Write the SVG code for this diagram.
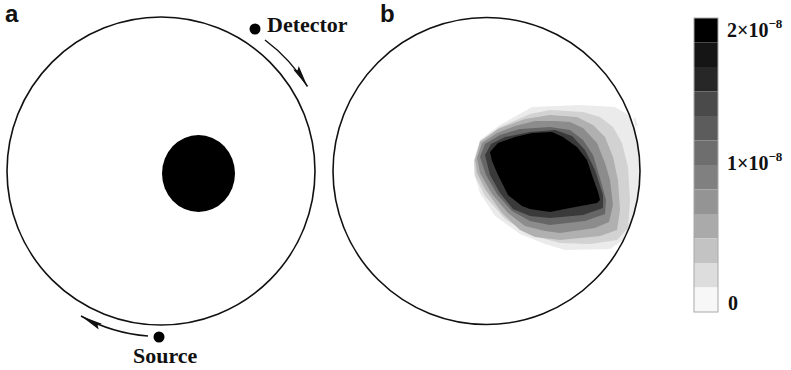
<svg xmlns="http://www.w3.org/2000/svg" width="791" height="370" viewBox="0 0 791 370">
<style>
  .ring { fill: none; stroke: #111; stroke-width: 1.6; }
  .lbl { font-family: "Liberation Sans", Arial, sans-serif; font-weight: bold; font-size: 24px; fill: #111; }
  .serif { font-family: "Liberation Serif", "Times New Roman", serif; font-weight: bold; fill: #111; }
  .arc { fill: none; stroke: #111; stroke-width: 1.5; marker-end: url(#dart); }
</style>
<defs>
  <marker id="dart" viewBox="0 0 22 7" refX="22" refY="3.5" markerWidth="22" markerHeight="7" markerUnits="userSpaceOnUse" orient="auto">
    <path d="M0,0.2 L22,3.5 L0,6.8 L3,3.5 Z" fill="#111"/>
  </marker>
  <clipPath id="clipB"><circle cx="486.5" cy="171" r="153.5"/></clipPath>
</defs>
<rect width="791" height="370" fill="#fff"/>

<g id="panel-a">
  <text class="lbl" x="5" y="22">a</text>
  <g id="phantom-a"><circle class="ring" cx="161" cy="171" r="154"/></g>
  <g id="inclusion"><ellipse cx="198.5" cy="173.5" rx="36.5" ry="38.5" fill="#000"/></g>
  <g id="detector">
    <circle cx="255" cy="29" r="5.5" fill="#000"/>
    <text class="serif" x="267" y="32" font-size="22">Detector</text>
  </g>
  <g id="source">
    <circle cx="159" cy="337" r="5.5" fill="#000"/>
    <text class="serif" x="133" y="363" font-size="22">Source</text>
  </g>
</g>

<g id="connectors">
  <path class="arc" d="M 265 40 A 168 168 0 0 1 307.5 86.5"/>
  <path class="arc" d="M 148 336 A 165 165 0 0 1 81 316"/>
</g>

<g id="panel-b">
  <text class="lbl" x="380" y="22">b</text>
  <g id="blob" clip-path="url(#clipB)">
    <polygon fill="#ebebeb" points="474,160 480,140 500,125 532,107 580,105 615,107 632,117 640,140 643,180 638,215 626,238 610,249 565,250 545,244 520,234 495,216 480,193 474,173"/>
    <polygon fill="#d2d2d2" points="474,161 480,141 500,127 530,114 550,110 583,112 600,117 613,127 622,143 628,167 630,200 628,228 617,240 590,244 560,243 530,235 505,219 485,196 475,176"/>
    <polygon fill="#b0b0b0" points="475,160 480,142 498,129 525,119 550,115 577,117 593,125 605,137 613,157 618,180 620,210 617,230 600,236 560,240 535,237 520,230 502,213 485,189 477,173"/>
    <polygon fill="#8c8c8c" points="477,158 482,143 497,133 515,126 535,121 555,121 570,122 583,128 597,143 605,163 610,180 613,205 609,222 595,228 560,233 545,231 525,226 508,213 492,194 480,173"/>
    <polygon fill="#666666" points="480,157 485,144 500,135 520,129 550,127 570,130 583,140 593,155 600,178 606,200 605,214 585,221 550,225 530,221 512,211 497,194 486,175"/>
    <polygon fill="#3a3a3a" points="485,155 491,144 505,137 530,132 555,130 572,136 585,150 595,170 603,195 603,208 583,215 550,218 530,216 513,209 500,193 490,175"/>
    <polygon fill="#000" points="490,152 498,143 515,137 532,133 552,132 563,137 577,147 587,160 593,178 598,192 600,200 597,203 570,208 550,212 530,209 522,206 508,195 498,175 492,161"/>
  </g>
  <g id="phantom-b"><circle class="ring" cx="486.5" cy="171" r="153.5"/></g>
  <line x1="634.5" y1="118" x2="636.5" y2="126" stroke="#ebebeb" stroke-width="2.5"/>
</g>

<g id="colorbar">
  <rect x="694" y="18" width="24" height="24.5" fill="#000"/>
  <rect x="694" y="42.5" width="24" height="24.5" fill="#151515"/>
  <rect x="694" y="67" width="24" height="24.5" fill="#272727"/>
  <rect x="694" y="91.5" width="24" height="24.5" fill="#4a4a4a"/>
  <rect x="694" y="116" width="24" height="24.5" fill="#5c5c5c"/>
  <rect x="694" y="140.5" width="24" height="24.5" fill="#6e6e6e"/>
  <rect x="694" y="165" width="24" height="24.5" fill="#808080"/>
  <rect x="694" y="189.5" width="24" height="24.5" fill="#949494"/>
  <rect x="694" y="214" width="24" height="24.5" fill="#aaaaaa"/>
  <rect x="694" y="238.5" width="24" height="24.5" fill="#c3c3c3"/>
  <rect x="694" y="263" width="24" height="24.5" fill="#dddddd"/>
  <rect x="694" y="287.5" width="24" height="24.5" fill="#f7f7f7"/>
  <rect x="694" y="18" width="24" height="294" fill="none" stroke="#a8a8a8" stroke-width="1"/>
  <text class="serif" x="727" y="37" font-size="20">2×10<tspan font-size="13" dy="-9">−8</tspan></text>
  <text class="serif" x="727" y="170" font-size="20">1×10<tspan font-size="13" dy="-9">−8</tspan></text>
  <text class="serif" x="728" y="310" font-size="20">0</text>
</g>
</svg>
